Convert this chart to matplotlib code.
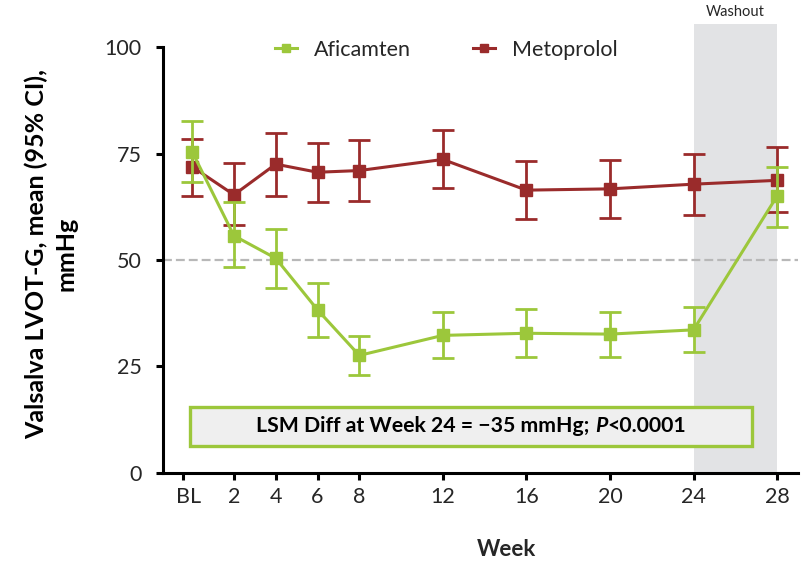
import matplotlib
matplotlib.use("Agg")
import matplotlib.pyplot as plt
from matplotlib.patches import Rectangle
from matplotlib.offsetbox import TextArea, HPacker, AnnotationBbox
from matplotlib.lines import Line2D
from matplotlib.transforms import ScaledTranslation
import numpy as np

# ---- data -------------------------------------------------------------
weeks = [0, 2, 4, 6, 8, 12, 16, 20, 24, 28]
tick_labels = ["BL", "2", "4", "6", "8", "12", "16", "20", "24", "28"]

afi_mean = [75.4, 55.7, 50.4, 38.3, 27.6, 32.3, 32.8, 32.6, 33.6, 65.0]
afi_lo = [68.4, 48.3, 43.5, 32.0, 22.9, 27.0, 27.2, 27.2, 28.4, 57.8]
afi_hi = [82.7, 63.5, 57.3, 44.5, 32.2, 37.7, 38.4, 37.7, 39.0, 71.9]

met_mean = [71.9, 65.3, 72.5, 70.6, 71.0, 73.6, 66.4, 66.7, 67.8, 68.7]
met_lo = [65.1, 58.2, 65.0, 63.7, 63.9, 66.8, 59.6, 59.9, 60.5, 61.3]
met_hi = [78.3, 72.7, 79.7, 77.4, 78.2, 80.5, 73.3, 73.5, 75.0, 76.5]

threshold = 50
washout = (24, 28)
box_text = ["LSM Diff at Week 24 = \u221235 mmHg; ", "P", "<0.0001"]

# ---- style ------------------------------------------------------------
GREEN = "#9cc73b"
RED = "#9a2b2b"
TXT = "#262626"
plt.rcParams["font.family"] = ["Lato", "DejaVu Sans"]

fig = plt.figure(figsize=(8.07, 5.61), dpi=100)
ax = fig.add_axes([0.2014, 0.1569, 0.7874, 0.7593])
ax.set_xlim(-1.42, 29.0)
ax.set_ylim(0, 100)

# washout shading (extends above the top of the y axis)
ax.add_patch(Rectangle((washout[0], 0), washout[1] - washout[0], 105.3,
                       facecolor="#e2e3e5", edgecolor="none", zorder=0,
                       clip_on=False))
ax.text(np.mean(washout), 108.3, "Washout", ha="center", va="center",
        fontsize=10.5, color=TXT, clip_on=False)

# reference line at 50 mmHg
ax.axhline(threshold, color="#b8b8b8", lw=1.6, dashes=(4, 1.8), zorder=1)


def draw_series(mean, lo, hi, color, label, z):
    mean = np.asarray(mean)
    yerr = np.vstack([mean - np.asarray(lo), np.asarray(hi) - mean])
    ax.errorbar(weeks, mean, yerr=yerr, color=color, lw=2.2, marker="s",
                ms=8, capsize=8, elinewidth=2.0, capthick=2.0,
                label=label, zorder=z)


draw_series(met_mean, met_lo, met_hi, RED, "Metoprolol", 3)
draw_series(afi_mean, afi_lo, afi_hi, GREEN, "Aficamten", 4)

# annotation box
ax.add_patch(Rectangle((-0.1, 6.3), 26.9, 9.3, facecolor="#efefef",
                       edgecolor=GREEN, lw=2.4, zorder=5))
fs_box = 15.3
parts = [
    TextArea(box_text[0], textprops=dict(fontsize=fs_box, fontweight="bold", color="black")),
    TextArea(box_text[1], textprops=dict(fontsize=fs_box, fontweight="bold", style="italic", color="black")),
    TextArea(box_text[2], textprops=dict(fontsize=fs_box, fontweight="bold", color="black")),
]
pack = HPacker(children=parts, align="baseline", pad=0, sep=0)
ax.add_artist(AnnotationBbox(pack, (13.35, 10.95), frameon=False,
                             box_alignment=(0.5, 0.5), zorder=6))

# legend
handles = [
    Line2D([], [], color=GREEN, lw=2.2, marker="s", ms=6),
    Line2D([], [], color=RED, lw=2.2, marker="s", ms=6),
]
fig.legend(handles, ["Aficamten", "Metoprolol"], ncol=2, frameon=False,
           loc="center", bbox_to_anchor=(0.553, 0.911), fontsize=15.5,
           handlelength=1.0, handletextpad=0.8, columnspacing=2.9,
           labelcolor=TXT)

# axes styling
for side in ("top", "right"):
    ax.spines[side].set_visible(False)
for side in ("left", "bottom"):
    ax.spines[side].set_linewidth(2.2)
    ax.spines[side].set_color("black")
    ax.spines[side].set_zorder(7)

tick_pos = [-0.45] + weeks[1:]
ax.set_xticks(tick_pos)
ax.set_xticklabels(tick_labels)
ax.set_yticks([0, 25, 50, 75, 100])
ax.tick_params(axis="both", direction="out", length=5, width=2.2,
               labelsize=15.5, labelcolor=TXT, color="black")
ax.tick_params(axis="y", pad=10)
ax.tick_params(axis="x", pad=5)

# nudge the baseline label slightly to the right of its tick
bl = ax.get_xticklabels()[0]
bl.set_transform(bl.get_transform() + ScaledTranslation(4 / 72, 0, fig.dpi_scale_trans))

ax.set_ylabel("Valsalva LVOT-G, mean (95% CI),\nmmHg", fontsize=18,
              fontweight="bold", color="black", linespacing=1.3)
ax.yaxis.set_label_coords(-0.134, 0.515)
ax.set_xlabel("Week", fontsize=16, fontweight="bold", color=TXT)
ax.xaxis.set_label_coords(0.5405, -0.155)

fig.savefig("out.png", dpi=100)
